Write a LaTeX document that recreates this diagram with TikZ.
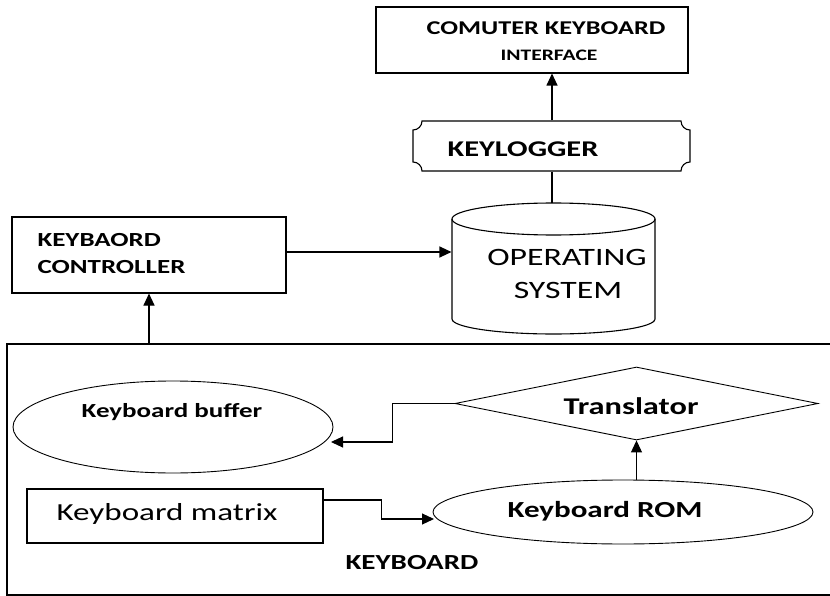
\documentclass[tikz,border=0pt]{standalone}
\usepackage{fontspec}
\setmainfont{Carlito}[FakeStretch=1.35]
\usetikzlibrary{shapes.geometric,arrows.meta}
\begin{document}
\begin{tikzpicture}[x=1pt,y=-1pt,line width=1.1pt,
  box/.style={draw,rectangle,inner sep=0pt},
  oval/.style={draw,ellipse,inner sep=0pt,line width=0.9pt},
  arr/.style={-{Triangle[length=12pt,width=11pt]}},
  lbl/.style={inner sep=0pt,anchor=center},
  fs/.style={font=\fontsize{#1}{#1}\selectfont},
  bfs/.style={font=\fontsize{#1}{#1}\selectfont\bfseries}]
\useasboundingbox (0,0) rectangle (830,596);

% top interface box
\node[box,minimum width=312pt,minimum height=66pt] (iface) at (532,40) {};
\node[lbl,bfs=19.5] (t1) at (546,28) {COMUTER KEYBOARD};
\node[lbl,bfs=16] (t2) at (549,55) {INTERFACE};

% keylogger plaque
\node[minimum width=277pt,minimum height=50pt,inner sep=0pt] (klog) at (551.5,146) {};
\draw (422,121) -- (681,121) arc[start angle=180,end angle=90,radius=9]
  -- (690,162) arc[start angle=270,end angle=180,radius=9]
  -- (422,171) arc[start angle=0,end angle=-90,radius=9]
  -- (413,130) arc[start angle=90,end angle=0,radius=9] -- cycle;
\node[lbl,bfs=22.5] (t3) at (523,149) {KEYLOGGER};

% operating system cylinder
\node[minimum width=203pt,minimum height=100pt,inner sep=0pt] (os) at (553.5,269) {};
\draw (452,219) -- (452,319) arc[start angle=180,end angle=0,x radius=101.5,y radius=15] -- (655,219);
\draw (553.5,219) ellipse[x radius=101.5,y radius=16];
\coordinate (ostop) at (552,203);
\node[lbl,fs=25] (t4) at (567,257) {OPERATING};
\node[lbl,fs=25] (t5) at (568,290) {SYSTEM};

% keyboard controller
\node[box,minimum width=274pt,minimum height=76pt] (ctrl) at (149,255) {};
\node[lbl,bfs=20,anchor=west] (t6) at (37,240) {KEYBAORD};
\node[lbl,bfs=20,anchor=west] (t7) at (37,267) {CONTROLLER};

% big keyboard box
\node[box,minimum width=828pt,minimum height=251pt] (kbd) at (421,469.5) {};
\node[lbl,bfs=21.5] (t8) at (412,563) {KEYBOARD};

% keyboard buffer
\node[oval,minimum width=320pt,minimum height=92pt] (buf) at (173,427) {};
\node[lbl,bfs=20] (t9) at (172,412) {Keyboard buffer};
\coordinate (bufin) at (331,442);

% translator
\node[draw,diamond,inner sep=0pt,line width=0.9pt,minimum width=363pt,minimum height=73pt] (trans) at (636.5,403.5) {};
\node[lbl,bfs=24] (t10) at (631,406) {Translator};

% keyboard ROM
\node[oval,minimum width=380pt,minimum height=64pt] (rom) at (623,512) {};
\node[lbl,bfs=23] (t11) at (605,511) {Keyboard ROM};
\coordinate (romin) at (434,519);

% keyboard matrix
\node[box,minimum width=296pt,minimum height=54pt] (mat) at (175,516) {};
\node[lbl,fs=24.5] (t12) at (167,514) {Keyboard matrix};

% connectors
\draw[arr] (klog.north -| iface.south) ++(20,0) coordinate (kn) -- (kn |- iface.south);
\draw (kn |- klog.south) -- (kn |- ostop);
\draw[arr] ([yshift=3pt]ctrl.east) -- ([yshift=3pt]ctrl.east -| os.west);
\draw[arr] (ctrl.south |- kbd.north) -- (ctrl.south);
\draw[arr] (trans.west) -- ++(-62,0) |- (bufin);
\draw[arr] ([yshift=16pt]mat.east) -- ++(58,0) |- (romin);
\draw[arr] (rom.north -| trans.south) -- (trans.south);
\end{tikzpicture}
\end{document}
